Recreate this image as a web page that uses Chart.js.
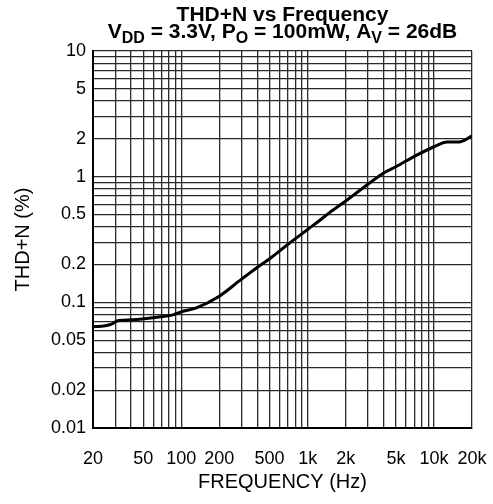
<!DOCTYPE html>
<html>
<head>
<meta charset="utf-8">
<script src="https://cdn.jsdelivr.net/npm/chart.js@4.4.1/dist/chart.umd.min.js"></script>
<style>
    html, body { margin: 0; padding: 0; background: #fff; }
    #wrap { position: relative; width: 493px; height: 504px; }
</style>
</head>
<body>
<div id="wrap"><canvas id="thdn-chart" width="493" height="504"></canvas></div>
<script>
const freqHz = [20, 25, 28, 31, 35, 47, 64, 86, 100, 130, 200, 300, 430, 500, 700, 1000, 1250, 1500, 2000, 3000, 4000, 5000, 7000, 10000, 12700, 16000, 20000];
const thdnPct = [0.064, 0.065, 0.067, 0.071, 0.072, 0.0735, 0.076, 0.0795, 0.084, 0.09, 0.112, 0.153, 0.2, 0.222, 0.29, 0.38, 0.45, 0.52, 0.64, 0.87, 1.07, 1.2, 1.45, 1.73, 1.89, 1.89, 2.11];

const xTickValues = [20, 50, 100, 200, 500, 1000, 2000, 5000, 10000, 20000];
const xTickText = ['20', '50', '100', '200', '500', '1k', '2k', '5k', '10k', '20k'];
const yTickValues = [0.01, 0.02, 0.05, 0.1, 0.2, 0.5, 1, 2, 5, 10];
const yTickText = ['0.01', '0.02', '0.05', '0.1', '0.2', '0.5', '1', '2', '5', '10'];

// grid lines at every 1..9 step of each decade
function decadeSteps(min, max) {
    const out = [];
    for (let d = 1e-3; d <= 1e5; d *= 10) {
        for (let m = 1; m <= 9; m++) {
            const v = +(m * d).toPrecision(3);
            if (v >= min * 0.999 && v <= max * 1.001) out.push(v);
        }
    }
    return out;
}

const FONT = "'Liberation Sans', Arial, sans-serif";

const titlePlugin = {
    id: 'twoLineTitle',
    afterDraw(chart) {
        const ctx = chart.ctx;
        const cx = (chart.chartArea.left + chart.chartArea.right) / 2;
        ctx.save();
        ctx.fillStyle = '#000';
        ctx.textBaseline = 'alphabetic';

        ctx.font = 'bold 21px ' + FONT;
        ctx.textAlign = 'center';
        ctx.fillText('THD+N vs Frequency', cx, 21);

        // second line with subscripts
        const parts = [
            ['V', false], ['DD', true], [' = 3.3V, P', false], ['O', true],
            [' = 100mW, A', false], ['V', true], [' = 26dB', false]
        ];
        const mainFont = 'bold 21px ' + FONT;
        const subFont = 'bold 16px ' + FONT;
        let total = 0;
        parts.forEach(p => {
            ctx.font = p[1] ? subFont : mainFont;
            total += ctx.measureText(p[0]).width;
        });
        let x = cx - total / 2;
        ctx.textAlign = 'left';
        parts.forEach(p => {
            ctx.font = p[1] ? subFont : mainFont;
            ctx.fillText(p[0], x, p[1] ? 43 : 38);
            x += ctx.measureText(p[0]).width;
        });
        ctx.restore();
    }
};

const ctx = document.getElementById('thdn-chart').getContext('2d');
new Chart(ctx, {
    type: 'line',
    data: {
        datasets: [{
            data: freqHz.map((f, i) => ({ x: f, y: thdnPct[i] })),
            borderColor: '#000',
            borderWidth: 3,
            pointRadius: 0,
            cubicInterpolationMode: 'monotone',
            fill: false
        }]
    },
    options: {
        responsive: false,
        animation: false,
        events: [],
        layout: { padding: { left: 0, right: 21, top: 51, bottom: 0 } },
        plugins: {
            legend: { display: false },
            title: { display: false },
            tooltip: { enabled: false }
        },
        scales: {
            x: {
                type: 'logarithmic',
                min: 20,
                max: 20000,
                afterBuildTicks: scale => {
                    scale.ticks = decadeSteps(20, 20000).map(v => ({ value: v }));
                },
                afterFit: scale => {
                    scale.height = 76;
                    scale.paddingLeft = 0;
                    scale.paddingRight = 0;
                },
                ticks: {
                    autoSkip: false,
                    maxRotation: 0,
                    padding: 20,
                    color: '#000',
                    font: { family: FONT, size: 18 },
                    callback: value => {
                        const i = xTickValues.indexOf(+(+value).toPrecision(3));
                        return i >= 0 ? xTickText[i] : '';
                    }
                },
                grid: { color: '#2a2a2a', lineWidth: 1.3, drawTicks: false },
                border: { display: true, color: '#000', width: 2 },
                title: {
                    display: true,
                    text: 'FREQUENCY (Hz)',
                    color: '#000',
                    font: { family: FONT, size: 20 },
                    padding: { top: 4, bottom: 10 }
                }
            },
            y: {
                type: 'logarithmic',
                min: 0.01,
                max: 10,
                afterBuildTicks: scale => {
                    scale.ticks = decadeSteps(0.01, 10).map(v => ({ value: v }));
                },
                afterFit: scale => {
                    scale.width = 93;
                    scale.paddingTop = 0;
                    scale.paddingBottom = 0;
                },
                ticks: {
                    autoSkip: false,
                    padding: 7,
                    color: '#000',
                    font: { family: FONT, size: 18 },
                    callback: value => {
                        const i = yTickValues.indexOf(+(+value).toPrecision(3));
                        return i >= 0 ? yTickText[i] : '';
                    }
                },
                grid: { color: '#2a2a2a', lineWidth: 1.3, drawTicks: false },
                border: { display: true, color: '#000', width: 2 },
                title: {
                    display: true,
                    text: 'THD+N (%)',
                    color: '#000',
                    font: { family: FONT, size: 20 },
                    padding: { top: 11, bottom: 4 }
                }
            }
        }
    },
    plugins: [titlePlugin]
});
</script>
</body>
</html>
